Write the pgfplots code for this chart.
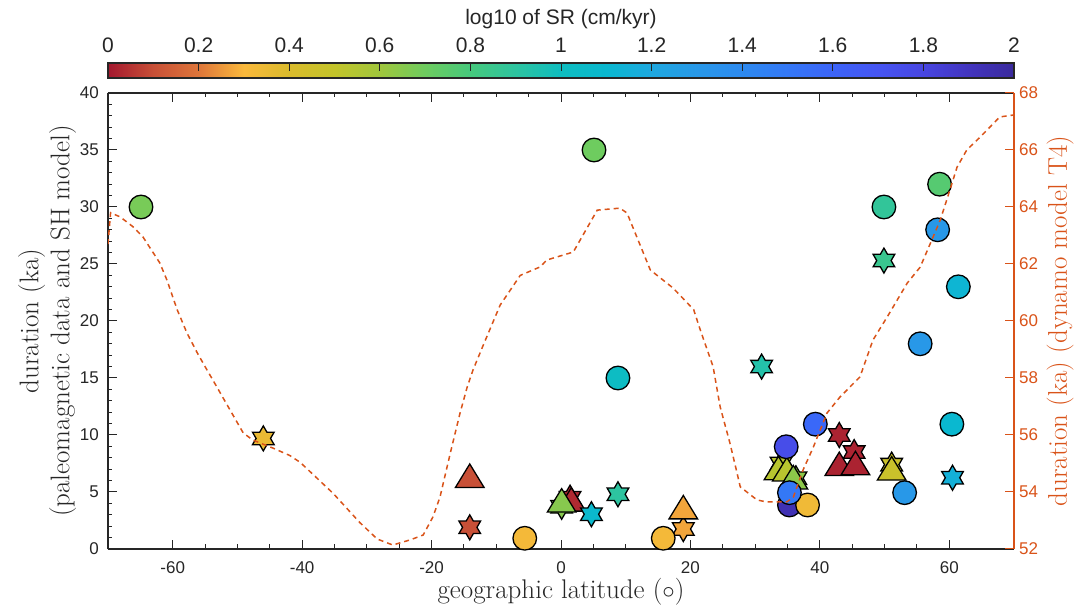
\documentclass[border=0pt]{standalone}
\usepackage{fontspec}
\setsansfont{Liberation Sans}
\usepackage{pgfplots}
\pgfplotsset{compat=1.18}
\definecolor{axgray}{HTML}{262626}
\definecolor{morange}{HTML}{D95319}
\pgfdeclareplotmark{hexa}{%
  \pgfpathmoveto{\pgfqpointpolar{90}{\pgfplotmarksize}}%
  \pgfpathlineto{\pgfqpointpolar{120}{0.577\pgfplotmarksize}}%
  \pgfpathlineto{\pgfqpointpolar{150}{\pgfplotmarksize}}%
  \pgfpathlineto{\pgfqpointpolar{180}{0.577\pgfplotmarksize}}%
  \pgfpathlineto{\pgfqpointpolar{210}{\pgfplotmarksize}}%
  \pgfpathlineto{\pgfqpointpolar{240}{0.577\pgfplotmarksize}}%
  \pgfpathlineto{\pgfqpointpolar{270}{\pgfplotmarksize}}%
  \pgfpathlineto{\pgfqpointpolar{300}{0.577\pgfplotmarksize}}%
  \pgfpathlineto{\pgfqpointpolar{330}{\pgfplotmarksize}}%
  \pgfpathlineto{\pgfqpointpolar{0}{0.577\pgfplotmarksize}}%
  \pgfpathlineto{\pgfqpointpolar{30}{\pgfplotmarksize}}%
  \pgfpathlineto{\pgfqpointpolar{60}{0.577\pgfplotmarksize}}%
  \pgfpathclose\pgfusepathqfillstroke}
\pgfdeclareplotmark{mtri}{%
  \pgfpathmoveto{\pgfqpoint{0pt}{0.82\pgfplotmarksize}}%
  \pgfpathlineto{\pgfqpoint{\pgfplotmarksize}{-0.82\pgfplotmarksize}}%
  \pgfpathlineto{\pgfqpoint{-\pgfplotmarksize}{-0.82\pgfplotmarksize}}%
  \pgfpathclose\pgfusepathqfillstroke}
\pgfplotsset{colormap={sr}{
 rgb255(0cm)=(164,24,47) rgb255(1cm)=(200,80,55) rgb255(2cm)=(222,118,58)
 rgb255(3cm)=(250,185,60) rgb255(4cm)=(218,187,44) rgb255(5cm)=(195,196,42)
 rgb255(6cm)=(160,198,60) rgb255(7cm)=(110,204,95) rgb255(8cm)=(70,201,125)
 rgb255(9cm)=(45,196,160) rgb255(10cm)=(14,189,192) rgb255(11cm)=(10,184,208)
 rgb255(12cm)=(30,168,224) rgb255(13cm)=(40,152,232) rgb255(14cm)=(45,138,240)
 rgb255(15cm)=(52,120,246) rgb255(16cm)=(60,100,248) rgb255(17cm)=(70,85,242)
 rgb255(18cm)=(72,70,225) rgb255(19cm)=(66,52,190) rgb255(20cm)=(58,42,156)}}

\pgfplotstableread{
x y c
-64.9 30.0 0.68
5.1 35.0 0.70
8.8 15.0 1.02
49.9 30.0 0.88
58.5 32.0 0.76
58.2 28.0 1.30
61.4 23.0 1.12
55.5 18.0 1.30
60.4 10.95 1.10
39.3 10.95 1.58
34.8 8.97 1.75
53.1 4.94 1.30
-5.6 0.94 0.32
15.8 0.94 0.32
35.3 3.86 1.93
38.1 3.86 0.33
35.3 4.94 1.50
}\circles
\pgfplotstableread{
x y c
-14.1 6.43 0.10
1.6 4.35 0.03
0.1 4.27 0.65
18.9 3.67 0.27
43.0 7.47 0.02
45.5 7.54 0.02
51.1 7.08 0.47
33.6 7.1 0.53
34.9 7.0 0.53
35.9 6.3 0.64
}\triangles
\pgfplotstableread{
x y c
-46.0 9.7 0.35
-14.1 1.9 0.10
1.4 4.5 0.03
0.1 3.7 0.65
8.8 4.8 0.90
18.9 1.75 0.27
31.0 16.0 0.93
43.0 10.0 0.02
45.3 8.5 0.02
49.9 25.3 0.85
60.5 6.25 1.15
51.1 7.4 0.47
34.0 7.5 0.53
36.3 6.2 0.64
}\starsA
\pgfplotstableread{
x y c
4.7 3.05 1.08
}\starsB
\pgfplotstableread{
x y
-70.0 62.7
-69.6 63.8
-68.1 63.65
-66.1 63.30
-64.6 62.95
-63.0 62.39
-62.0 62.04
-60.9 61.44
-59.3 60.39
-57.8 59.58
-56.2 58.88
-54.7 58.28
-53.8 57.93
-49.1 56.07
-47.6 55.82
-44.5 55.54
-41.9 55.28
-40.3 55.04
-35.2 53.95
-31.1 52.93
-28.4 52.35
-26.0 52.14
-23.3 52.32
-21.3 52.49
-19.8 53.12
-18.7 53.82
-17.1 55.37
-15.6 56.77
-14.5 57.68
-13.6 58.28
-12.0 59.16
-9.4 60.56
-6.3 61.60
-3.2 61.90
-2.2 62.14
1.9 62.42
5.6 63.89
9.1 63.96
10.2 63.79
13.8 61.79
17.3 61.16
20.5 60.40
21.5 59.70
23.5 58.40
24.6 56.98
26.1 55.72
27.2 54.67
27.7 54.18
30.3 53.72
31.8 53.65
34.9 53.65
35.9 53.82
37.4 54.77
39.0 55.58
41.1 56.77
43.1 57.33
46.2 58.04
48.2 59.33
50.4 60.14
53.5 61.33
55.5 61.89
57.5 62.95
58.6 63.54
60.1 64.60
61.2 65.40
62.7 66.00
64.8 66.46
67.8 67.16
70.0 67.23
}\dyn

\begin{document}
\begin{tikzpicture}
\useasboundingbox (0,0) rectangle (1087pt,608pt);
\begin{axis}[
  at={(108pt,59pt)}, anchor=south west,
  scale only axis, width=906pt, height=456pt,
  xmin=-70, xmax=70, ymin=0, ymax=40,
  axis x line*=box, axis y line*=left,
  xtick pos=both, ytick pos=left,
  tick align=inside,
  xtick={-60,-40,-20,0,20,40,60},
  xticklabels={-60,-40,-20,0,20,40,60},
  ytick={0,5,10,15,20,25,30,35,40},
  yticklabels={0,5,10,15,20,25,30,35,40},
  minor x tick num=3, minor y tick num=4,
  major tick length=9pt, minor tick length=4.5pt,
  every tick/.style={axgray, line width=1pt},
  axis line style={axgray, line width=1.1pt},
  ticklabel style={font=\sffamily\fontsize{17}{20}\selectfont, text=axgray},
  xticklabel style={anchor=center, yshift=-19pt},
  yticklabel style={anchor=east, inner sep=0pt, xshift=-9pt},
  xlabel={geographic latitude ($\circ$)},
  xlabel style={at={(axis description cs:0.5,-0.0943)}, anchor=center, font=\fontsize{27}{31}\selectfont, text=axgray},
  ylabel={duration (ka)\\(paleomagnetic data and SH model)},
  ylabel style={at={(axis description cs:-0.0673,0.5)}, anchor=center, align=center, font=\fontsize{27}{31}\selectfont, text=axgray},
  colormap name=sr,
  point meta min=0, point meta max=2,
  colorbar horizontal,
  colorbar style={
    at={(parent axis.north west)}, anchor=south west, yshift=23.5pt,
    scale only axis, width=906pt, height=15pt,
    xtick={0,0.2,0.4,0.6,0.8,1,1.2,1.4,1.6,1.8,2},
    xticklabels={0,0.2,0.4,0.6,0.8,1,1.2,1.4,1.6,1.8,2},
    xticklabel pos=right, xtick pos=right, xtick align=inside,
    major tick length=8pt,
    every tick/.style={axgray, line width=1pt},
    axis line style={axgray, line width=1.1pt},
    xticklabel style={font=\sffamily\fontsize{21}{24}\selectfont, text=axgray, anchor=center, yshift=18pt},
    title={log10 of SR (cm/kyr)},
    title style={at={(axis description cs:0.5,1)}, anchor=center, yshift=38pt, font=\sffamily\fontsize{21}{24}\selectfont, text=axgray},
  },
]
\addplot[scatter, only marks, scatter src=explicit, mark=hexa, mark size=12.5pt,
  mark options={line width=1.3pt}, scatter/use mapped color={draw=black, fill=mapped color}]
  table[x=x, y=y, meta=c] {\starsA};
\addplot[scatter, only marks, scatter src=explicit, mark=mtri, mark size=14.3pt,
  mark options={line width=1.3pt}, scatter/use mapped color={draw=black, fill=mapped color}]
  table[x=x, y=y, meta=c] {\triangles};
\addplot[scatter, only marks, scatter src=explicit, mark=hexa, mark size=12.5pt,
  mark options={line width=1.3pt}, scatter/use mapped color={draw=black, fill=mapped color}]
  table[x=x, y=y, meta=c] {\starsB};
\addplot[scatter, only marks, scatter src=explicit, mark=*, mark size=11.8pt,
  mark options={line width=1.3pt}, scatter/use mapped color={draw=black, fill=mapped color}]
  table[x=x, y=y, meta=c] {\circles};
\end{axis}
\begin{axis}[
  at={(108pt,59pt)}, anchor=south west,
  scale only axis, width=906pt, height=456pt,
  xmin=-70, xmax=70, ymin=52, ymax=68,
  axis x line=none, axis y line*=right,
  ytick pos=right, tick align=inside,
  ytick={52,54,56,58,60,62,64,66,68},
  yticklabels={52,54,56,58,60,62,64,66,68},
  minor y tick num=0,
  major tick length=9pt,
  every tick/.style={morange, line width=1pt},
  axis line style={morange, line width=1.1pt},
  ticklabel style={font=\sffamily\fontsize{17}{20}\selectfont, text=morange},
  yticklabel style={anchor=west, inner sep=0pt, xshift=5pt},
  ylabel={duration (ka) (dynamo model T4)},
  ylabel style={at={(axis description cs:1.0508,0.5)}, anchor=center, font=\fontsize{27}{31}\selectfont, text=morange},
]
\addplot[morange, line width=1.5pt, dash pattern=on 5pt off 4pt] table[x=x, y=y] {\dyn};
\end{axis}
\end{tikzpicture}
\end{document}
